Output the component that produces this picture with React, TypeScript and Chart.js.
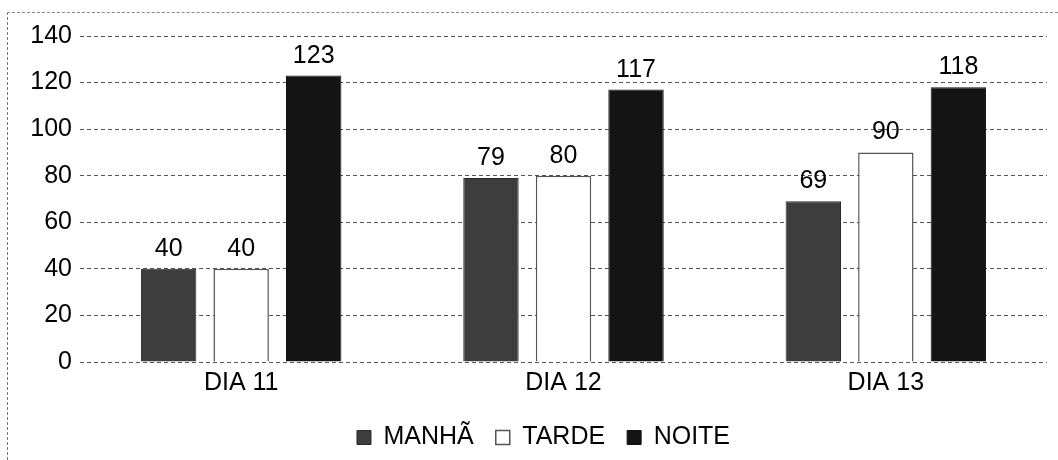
import React, { useEffect, useRef } from "react";
import { Chart, registerables } from "chart.js";

Chart.register(...registerables);

const categories = ["DIA 11", "DIA 12", "DIA 13"];
const seriesNames = ["MANHÃ", "TARDE", "NOITE"];
const manha = [40, 79, 69];
const tarde = [40, 80, 90];
const noite = [123, 117, 118];
const yTicks = [0, 20, 40, 60, 80, 100, 120, 140];

const FONT = "'Liberation Sans', Arial, sans-serif";
const FONT_SIZE = 25;

// Writes each bar's value just above its top edge.
const valueLabels = {
  id: "valueLabels",
  afterDatasetsDraw(chart: any) {
    const ctx = chart.ctx;
    ctx.save();
    ctx.font = `${FONT_SIZE}px ${FONT}`;
    ctx.fillStyle = "#000";
    ctx.textAlign = "center";
    ctx.textBaseline = "alphabetic";
    chart.data.datasets.forEach((ds: any, di: number) => {
      const meta = chart.getDatasetMeta(di);
      meta.data.forEach((bar: any, i: number) => {
        ctx.fillText(String(ds.data[i]), bar.x, bar.y - 13);
      });
    });
    ctx.restore();
  },
};

// Centres the legend row under the plot area rather than the whole canvas.
const legendUnderPlot = {
  id: "legendUnderPlot",
  afterLayout(chart: any) {
    const lg = chart.legend;
    if (!lg) return;
    const shift = 20;
    lg.left += shift;
    lg.right += shift;
  },
};

export default function App() {
  const ref = useRef<HTMLCanvasElement>(null);

  useEffect(() => {
    if (!ref.current) return;
    const chart = new Chart(ref.current, {
      type: "bar",
      data: {
        labels: categories,
        datasets: [
          {
            label: seriesNames[0],
            data: manha,
            backgroundColor: "#3d3d3d",
            borderColor: "#2a2a2a",
            borderWidth: 1,
          },
          {
            label: seriesNames[1],
            data: tarde,
            backgroundColor: "#ffffff",
            borderColor: "#555555",
            borderWidth: 1.5,
          },
          {
            label: seriesNames[2],
            data: noite,
            backgroundColor: "#141414",
            borderColor: "#111111",
            borderWidth: 1,
          },
        ],
      },
      options: {
        animation: false,
        responsive: false,
        maintainAspectRatio: false,
        categoryPercentage: 0.675,
        barPercentage: 0.764,
        layout: { padding: { top: 36, right: 11, left: 0, bottom: 0 } },
        plugins: {
          legend: {
            position: "bottom",
            labels: {
              font: { family: FONT, size: FONT_SIZE },
              color: "#000",
              boxWidth: 14,
              boxHeight: 14,
              padding: 22,
            },
          },
          tooltip: { enabled: false },
        },
        scales: {
          x: {
            grid: { display: false, drawTicks: false },
            border: { display: false },
            ticks: {
              font: { family: FONT, size: FONT_SIZE },
              color: "#000",
              padding: 6,
            },
            afterFit(scale: any) {
              scale.height = 41;
            },
          },
          y: {
            min: 0,
            max: 140,
            afterBuildTicks(scale: any) {
              scale.ticks = yTicks.map((v) => ({ value: v }));
            },
            grid: {
              color: "#555555",
              lineWidth: 1,
              drawTicks: false,
            },
            border: { display: false, dash: [4, 3] },
            ticks: {
              font: { family: FONT, size: FONT_SIZE },
              color: "#000",
              padding: 8,
            },
            afterFit(scale: any) {
              scale.width = 80;
            },
          },
        },
      },
      plugins: [valueLabels, legendUnderPlot],
    });
    return () => chart.destroy();
  }, []);

  return (
    <div
      style={{
        position: "fixed",
        left: 0,
        top: 0,
        width: 1058,
        height: 460,
        background: "#fff",
      }}
    >
      <div
        style={{
          position: "absolute",
          left: 7,
          top: 12,
          right: 0,
          bottom: 0,
          borderTop: "1px dashed #888",
          borderLeft: "1px dashed #777",
        }}
      />
      <canvas
        ref={ref}
        width={1058}
        height={460}
        style={{ position: "absolute", left: 0, top: 0, width: 1058, height: 460 }}
      />
    </div>
  );
}
